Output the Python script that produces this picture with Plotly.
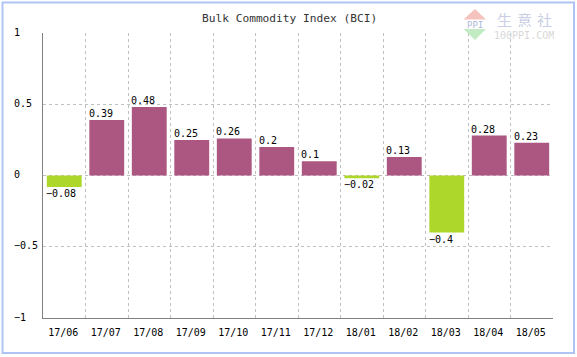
import plotly.graph_objects as go

categories = ["17/06","17/07","17/08","17/09","17/10","17/11","17/12","18/01","18/02","18/03","18/04","18/05"]
values = [-0.08,0.39,0.48,0.25,0.26,0.2,0.1,-0.02,0.13,-0.4,0.28,0.23]
ytick_vals = [1,0.5,0,-0.5,-1]
ytick_text = ["1","0.5","0","\u22120.5","\u22121"]
label_text = ["\u22120.08","0.39","0.48","0.25","0.26","0.2","0.1","\u22120.02","0.13","\u22120.4","0.28","0.23"]

POS = "#AB5781"; NEG = "#ADD72B"; GRID = "#c0c0c0"; AXIS = "#808080"; BORDER = "#AFC4F5"
MONO = "DejaVu Sans Mono, monospace"
L, R, T, B = 43, 553, 33, 318
def px(p): return (p - L) / (R - L)
def py(p): return (B - p) / (B - T)

fig = go.Figure(go.Bar(
    x=categories, y=values, width=0.82,
    marker=dict(color=[POS if v >= 0 else NEG for v in values], line=dict(width=0)),
    hoverinfo="x+y",
))

ann = []
for c, v, t in zip(categories, values, label_text):
    ann.append(dict(x=c, y=v, xref="x", yref="y", text=t, showarrow=False,
                    xanchor="left", yanchor="bottom" if v >= 0 else "top",
                    xshift=-20, yshift=-1 if v >= 0 else 1,
                    font=dict(family=MONO, size=10, color="#000")))
for v, t in zip(ytick_vals, ytick_text):
    ann.append(dict(x=px(12), y=v, xref="paper", yref="y", text=t, showarrow=False,
                    xanchor="left", yanchor="middle", yshift=1,
                    font=dict(family=MONO, size=10, color="#000")))
ann.append(dict(x=px(289), y=py(18), xref="paper", yref="paper", text="Bulk Commodity Index (BCI)",
                showarrow=False, xanchor="center", yanchor="middle",
                font=dict(family=MONO, size=11.2, color="#333")))
# watermark
ann.append(dict(x=px(524), y=py(19), xref="paper", yref="paper", text="\u751f\u2004\u610f\u2004\u793e", showarrow=False,
                xanchor="center", yanchor="middle", height=16,
                font=dict(family="Noto Sans CJK SC", size=15, color="#C9CFE3")))
ann.append(dict(x=px(524), y=py(34.5), xref="paper", yref="paper", text="100PPI.COM", showarrow=False,
                xanchor="center", yanchor="middle", height=10,
                font=dict(family=MONO, size=10, color="#D8D8D8")))
ann.append(dict(x=px(475), y=py(25), xref="paper", yref="paper", text="PPI", showarrow=False,
                xanchor="center", yanchor="middle", height=8,
                font=dict(family=MONO, size=9, color="#AEB8D8")))

def tri(a, b, c):
    return f"M {px(a[0])} {py(a[1])} L {px(b[0])} {py(b[1])} L {px(c[0])} {py(c[1])} Z"

shapes = [
    dict(type="rect", xref="paper", yref="paper", x0=px(2.5), x1=px(574), y0=py(353), y1=py(2.5),
         line=dict(color=BORDER, width=2), fillcolor="rgba(0,0,0,0)", layer="below"),
    dict(type="path", xref="paper", yref="paper", path=tri((463.5,19.5),(475,9),(486,19.5)),
         line=dict(width=0), fillcolor="#F6C2BE", layer="above"),
    dict(type="path", xref="paper", yref="paper", path=tri((463.5,29),(475,40),(486,29)),
         line=dict(width=0), fillcolor="#C2EBC4", layer="above"),
]
fig.update_layout(
    width=577, height=357, margin=dict(l=L, r=577-R, t=T, b=357-B, autoexpand=False),
    paper_bgcolor="white", plot_bgcolor="white", showlegend=False,
    annotations=ann, shapes=shapes,
    xaxis=dict(type="category", tickson="boundaries", showgrid=True, gridcolor=GRID, griddash="3px,3px", gridwidth=1,
               showline=True, linecolor=AXIS, linewidth=1, ticks="", zeroline=False,
               tickfont=dict(family=MONO, size=10, color="#000"), ticklabelstandoff=5, ticklabelshift=-1, tickangle=0),
    yaxis=dict(range=[-1,1], tickvals=ytick_vals, showticklabels=False, showgrid=True, gridcolor=GRID,
               griddash="3px,3px", gridwidth=1, showline=True, linecolor=AXIS, linewidth=1, ticks="", zeroline=False),
)
fig.write_html("out.html", config=dict(displayModeBar=False),
               post_script="document.body.style.margin='0';document.body.style.overflow='hidden';")
